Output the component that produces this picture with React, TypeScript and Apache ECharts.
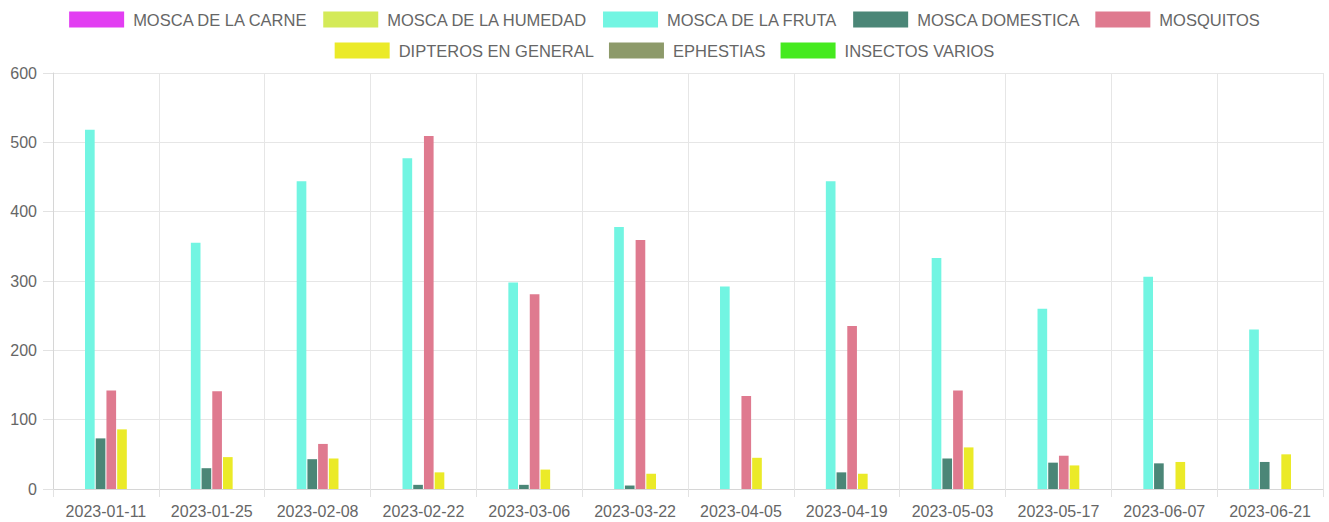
import React, { useEffect, useRef } from "react";
import * as echarts from "echarts";

const categories = [
  "2023-01-11", "2023-01-25", "2023-02-08", "2023-02-22", "2023-03-06", "2023-03-22",
  "2023-04-05", "2023-04-19", "2023-05-03", "2023-05-17", "2023-06-07", "2023-06-21",
];

const moscaCarne = [0, 0, 0, 0, 0, 0, 0, 0, 0, 0, 0, 0];
const moscaHumedad = [0, 0, 0, 0, 0, 0, 0, 0, 0, 0, 0, 0];
const moscaFruta = [518, 355, 444, 477, 298, 378, 292, 444, 333, 260, 306, 230];
const moscaDomestica = [73, 30, 43, 6, 6, 5, 0, 24, 44, 38, 37, 39];
const mosquitos = [142, 141, 65, 509, 281, 359, 134, 235, 142, 48, 0, 0];
const dipteros = [86, 46, 44, 24, 28, 22, 45, 22, 60, 34, 39, 50];
const ephestias = [0, 0, 0, 0, 0, 0, 0, 0, 0, 0, 0, 0];
const insectosVarios = [0, 0, 0, 0, 0, 0, 0, 0, 0, 0, 0, 0];

const yTicks = { min: 0, max: 600, interval: 100 };

const seriesDefs = [
  { name: "MOSCA DE LA CARNE", data: moscaCarne, color: "#e23ef2" },
  { name: "MOSCA DE LA HUMEDAD", data: moscaHumedad, color: "#d4ea58" },
  { name: "MOSCA DE LA FRUTA", data: moscaFruta, color: "#72f5e2" },
  { name: "MOSCA DOMESTICA", data: moscaDomestica, color: "#4b8677" },
  { name: "MOSQUITOS", data: mosquitos, color: "#df7a8f" },
  { name: "DIPTEROS EN GENERAL", data: dipteros, color: "#ebea28" },
  { name: "EPHESTIAS", data: ephestias, color: "#8d9a6a" },
  { name: "INSECTOS VARIOS", data: insectosVarios, color: "#45ea1f" },
];

const FONT = "'Liberation Sans', Arial, Helvetica, sans-serif";

export default function App() {
  const ref = useRef<HTMLDivElement>(null);
  useEffect(() => {
    if (!ref.current) return;
    const chart = echarts.init(ref.current, undefined, { renderer: "svg" });
    const legendCommon = {
      left: "center",
      orient: "horizontal",
      icon: "rect",
      itemWidth: 55,
      itemHeight: 16,
      itemGap: 15,
      textStyle: { color: "#666", fontSize: 16.5, fontFamily: FONT, padding: [0, 0, 0, 4] },
      selectedMode: false,
    };
    chart.setOption({
      animation: false,
      textStyle: { fontFamily: FONT },
      legend: [
        { ...legendCommon, top: 6, data: seriesDefs.slice(0, 5).map((s) => s.name) },
        { ...legendCommon, top: 37, data: seriesDefs.slice(5).map((s) => s.name) },
      ],
      grid: { left: 53, right: 6, top: 73, bottom: 33, containLabel: false },
      xAxis: {
        type: "category",
        data: categories,
        boundaryGap: true,
        axisLine: { show: true, lineStyle: { color: "#d6d6d6" } },
        axisTick: { show: true, length: 8, interval: 0, lineStyle: { color: "#e2e2e2" } },
        splitLine: { show: true, interval: 0, lineStyle: { color: "#e6e6e6" } },
        axisLabel: { color: "#666", fontSize: 16, fontFamily: FONT, margin: 14, interval: 0 },
      },
      yAxis: {
        type: "value",
        min: yTicks.min,
        max: yTicks.max,
        interval: yTicks.interval,
        axisLine: { show: true, lineStyle: { color: "#d6d6d6" } },
        axisTick: { show: true, length: 10, lineStyle: { color: "#e2e2e2" } },
        splitLine: { show: true, lineStyle: { color: "#e6e6e6" } },
        axisLabel: { color: "#666", fontSize: 16, fontFamily: FONT, margin: 16 },
      },
      series: seriesDefs.map((s) => ({
        name: s.name,
        type: "bar",
        data: s.data,
        barCategoryGap: "20%",
        barGap: "11%",
        itemStyle: { color: s.color },
      })),
    });
    return () => chart.dispose();
  }, []);
  return (
    <div
      ref={ref}
      style={{ position: "fixed", left: 0, top: 0, width: 1329, height: 522, background: "#fff" }}
    />
  );
}
